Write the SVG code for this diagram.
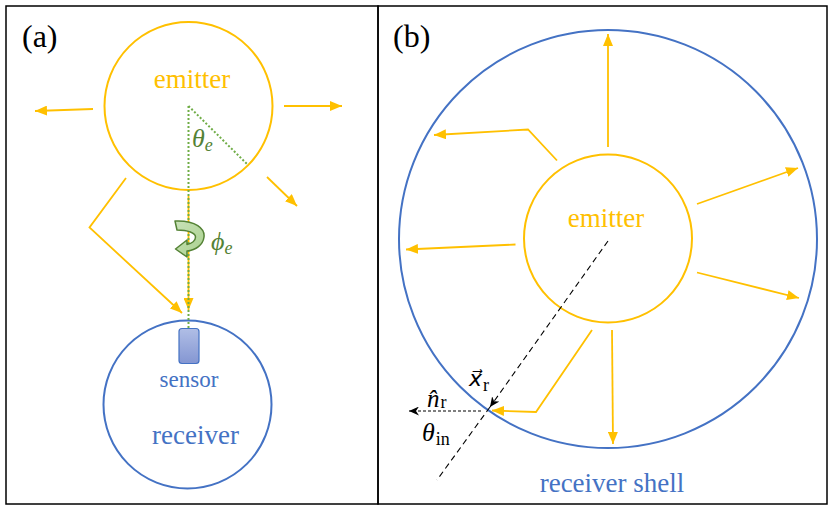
<svg xmlns="http://www.w3.org/2000/svg" width="831" height="510" viewBox="0 0 831 510">
<style>
.frame{fill:none;stroke:#000;stroke-width:1.5}
.em{fill:none;stroke:#FFC000;stroke-width:2}
.rc{fill:none;stroke:#4472C4;stroke-width:2}
.ray{fill:none;stroke:#FFC000;stroke-width:1.8;marker-end:url(#oa)}
.gd{fill:none;stroke:#70AD47;stroke-width:2;stroke-dasharray:2 2}
.emt{fill:#FFC000;font-size:27px;text-anchor:middle}
.rct{fill:#4472C4;text-anchor:middle}
.gm{fill:#548235}
</style>
<defs>
<marker id="oa" markerUnits="userSpaceOnUse" markerWidth="12" markerHeight="10" refX="12" refY="5" orient="auto">
<path d="M0,0 L12,5 L0,10 z" fill="#FFC000"/>
</marker>
<marker id="ba" markerUnits="userSpaceOnUse" markerWidth="11" markerHeight="9" refX="10" refY="4.5" orient="auto">
<path d="M0,0 L10,4.5 L0,9 L3,4.5 z" fill="#000"/>
</marker>
<linearGradient id="sg" x1="0" y1="0" x2="0" y2="1">
<stop offset="0" stop-color="#B0BEE6"/>
<stop offset="1" stop-color="#8496D2"/>
</linearGradient>
<linearGradient id="gg" x1="0" y1="0" x2="1" y2="1">
<stop offset="0" stop-color="#C9E2B8"/>
<stop offset="1" stop-color="#A9D18E"/>
</linearGradient>
</defs>
<rect width="831" height="510" fill="#fff"/>

<g font-family="'Liberation Serif', 'Times New Roman', 'DejaVu Serif', serif">
<g id="panel-a">
<rect class="frame" x="6" y="6" width="372" height="498"/>
<text x="22" y="47" font-size="32">(a)</text>
</g>
<g id="panel-b">
<rect class="frame" x="378" y="6" width="449" height="498"/>
<text x="393" y="47" font-size="32">(b)</text>
</g>

<g id="emitter-a">
<circle class="em" cx="188.5" cy="106" r="84"/>
<text class="emt" x="192" y="88">emitter</text>
</g>
<g id="receiver-a">
<circle class="rc" cx="187.5" cy="404.5" r="84"/>
<text class="rct" x="195.5" y="444" font-size="27">receiver</text>
</g>
<g id="sensor">
<rect x="179" y="328.5" width="20" height="35" rx="3" fill="url(#sg)" stroke="#4472C4" stroke-width="1.2"/>
<text class="rct" x="189" y="387" font-size="23">sensor</text>
</g>

<g id="emitter-b">
<circle class="em" cx="608" cy="238.5" r="84"/>
<text class="emt" x="606" y="227">emitter</text>
</g>
<g id="receiver-shell">
<circle class="rc" cx="608" cy="239" r="209"/>
<text class="rct" x="612" y="492" font-size="27">receiver shell</text>
</g>

<g id="connectors">
<line class="ray" x1="93" y1="109" x2="35" y2="111"/>
<line class="ray" x1="284" y1="106" x2="342" y2="106"/>
<line class="ray" x1="267" y1="177" x2="297" y2="206"/>
<polyline class="ray" points="126,178 89.5,227.5 182,313"/>
<line class="ray" x1="188.5" y1="196" x2="188.5" y2="310"/>
<line class="gd" x1="188.5" y1="106" x2="188.5" y2="329"/>
<line class="gd" x1="188.5" y1="106" x2="247" y2="164"/>
<path d="M175,221 C196,220 205,229 204,237 C203,245 196,250 187,251 L187,257 L175.5,249 L187,240 L187,244.5 C192,243.5 195.5,240.5 195.5,237 C195.5,233 188,230 177,230 Z" fill="url(#gg)" stroke="#548235" stroke-width="1.5" stroke-linejoin="round"/>

<line class="ray" x1="608" y1="147" x2="608" y2="34"/>
<polyline class="ray" points="557,160.5 528,129.5 434,135"/>
<line class="ray" x1="515.5" y1="244.5" x2="406" y2="249.5"/>
<line class="ray" x1="697" y1="204" x2="798" y2="168"/>
<line class="ray" x1="697" y1="272.5" x2="799" y2="298"/>
<line class="ray" x1="612" y1="330" x2="613" y2="444"/>
<polyline class="ray" points="592,330 536,412 492,410.5"/>

<line x1="608" y1="241" x2="490" y2="407" stroke="#000" stroke-width="1.1" stroke-dasharray="6 4" marker-end="url(#ba)"/>
<line x1="490" y1="407" x2="437" y2="480" stroke="#000" stroke-width="1.1" stroke-dasharray="6 4"/>
<line x1="481" y1="411" x2="409" y2="411" stroke="#000" stroke-width="1.1" stroke-dasharray="3 2" marker-end="url(#ba)"/>
</g>

<g id="labels">
<text class="gm" x="192" y="147" font-size="26" font-style="italic">θ<tspan font-size="18" dy="4">e</tspan></text>
<text class="gm" x="211" y="250" font-size="26" font-style="italic">ϕ<tspan font-size="18" dy="4">e</tspan></text>
<text x="469" y="386" font-size="22"><tspan font-family="'DejaVu Sans', sans-serif" font-style="italic">x⃗</tspan><tspan font-size="18" dx="1" dy="5">r</tspan></text>
<text x="427" y="407" font-size="25"><tspan font-style="italic">n̂</tspan><tspan font-size="18" dx="1" dy="1">r</tspan></text>
<text x="422" y="441" font-size="26"><tspan font-style="italic">θ</tspan><tspan font-size="18" dx="1" dy="4">in</tspan></text>
</g>
</g>
</svg>
